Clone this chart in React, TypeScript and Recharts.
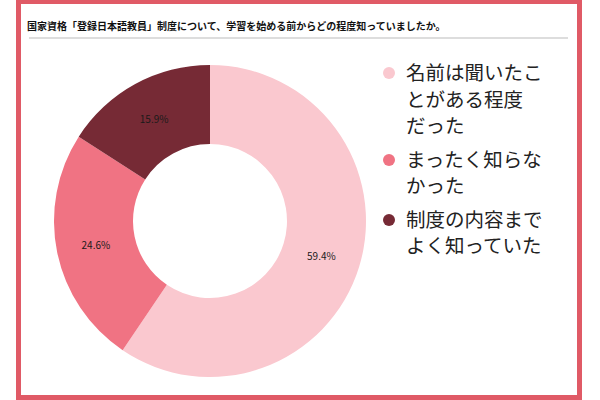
import React from "react";
import { Cell, Legend, Pie, PieChart } from "recharts";

const categories = ["名前は聞いたことがある程度だった", "まったく知らなかった", "制度の内容までよく知っていた"];
const legendLines = [
    ["名前は聞いたこ", "とがある程度", "だった"],
    ["まったく知らな", "かった"],
    ["制度の内容まで", "よく知っていた"],
];
const shares = [59.4, 24.6, 15.9];
const colors = ["#FAC8CF", "#F07383", "#762A35"];

const title = "国家資格「登録日本語教員」制度について、学習を始める前からどの程度知っていましたか。";

const data = categories.map((name, i) => ({ name, value: shares[i] }));

const FONT = '"Noto Sans CJK JP", "Noto Sans", sans-serif';
const RADIAN = Math.PI / 180;

const renderLabel = (props: any) => {
    const { cx, cy, midAngle, innerRadius, outerRadius, value } = props;
    const r = (innerRadius + outerRadius) / 2;
    const x = cx + r * Math.cos(-midAngle * RADIAN);
    const y = cy + r * Math.sin(-midAngle * RADIAN);
    return (
        <text x={x} y={y} fill="#1a1a1a" fontSize={10} fontFamily={FONT} textAnchor="middle" dominantBaseline="central">
            {value.toFixed(1)}%
        </text>
    );
};

// legend drawn in data order (recharts would reorder the payload)
const renderLegend = () => (
    <div style={{ fontFamily: FONT }}>
        {categories.map((_, i) => (
            <div key={i} style={{ display: "flex", alignItems: "flex-start", marginBottom: 7 }}>
                <span style={{ width: 12, height: 12, borderRadius: 6, background: colors[i], marginTop: 8, marginRight: 11, flexShrink: 0 }} />
                <span style={{ fontSize: 19.5, lineHeight: "26.5px", color: "#222" }}>
                    {legendLines[i].map((line, j) => (
                        <div key={j}>{line}</div>
                    ))}
                </span>
            </div>
        ))}
    </div>
);

export default function App() {
    return (
        <div style={{ position: "absolute", left: 0, top: 0, width: 600, height: 400, background: "#fff", overflow: "hidden" }}>
            <div style={{ position: "absolute", left: 16, top: -1, width: 566, height: 401, border: "5px solid #E05A66", boxSizing: "border-box" }} />
            <div style={{ position: "absolute", left: 27, top: 18, fontFamily: FONT, fontSize: 10, fontWeight: "bold", color: "#111", whiteSpace: "nowrap" }}>
                {title}
            </div>
            <div style={{ position: "absolute", left: 29, top: 37, width: 539, height: 2, background: "#DDDDDD" }} />
            <div style={{ position: "absolute", left: 0, top: 0 }}>
                <PieChart width={600} height={400}>
                    <Pie
                        data={data}
                        dataKey="value"
                        nameKey="name"
                        cx={205}
                        cy={216}
                        innerRadius={77}
                        outerRadius={156}
                        startAngle={90}
                        endAngle={-270}
                        stroke="none"
                        label={renderLabel}
                        labelLine={false}
                        isAnimationActive={false}
                    >
                        {data.map((_, i) => (
                            <Cell key={i} fill={colors[i]} />
                        ))}
                    </Pie>
                    <Legend
                        layout="vertical"
                        content={renderLegend}
                        wrapperStyle={{ position: "absolute", left: 383, top: 59, width: 190 }}
                    />
                </PieChart>
            </div>
        </div>
    );
}
